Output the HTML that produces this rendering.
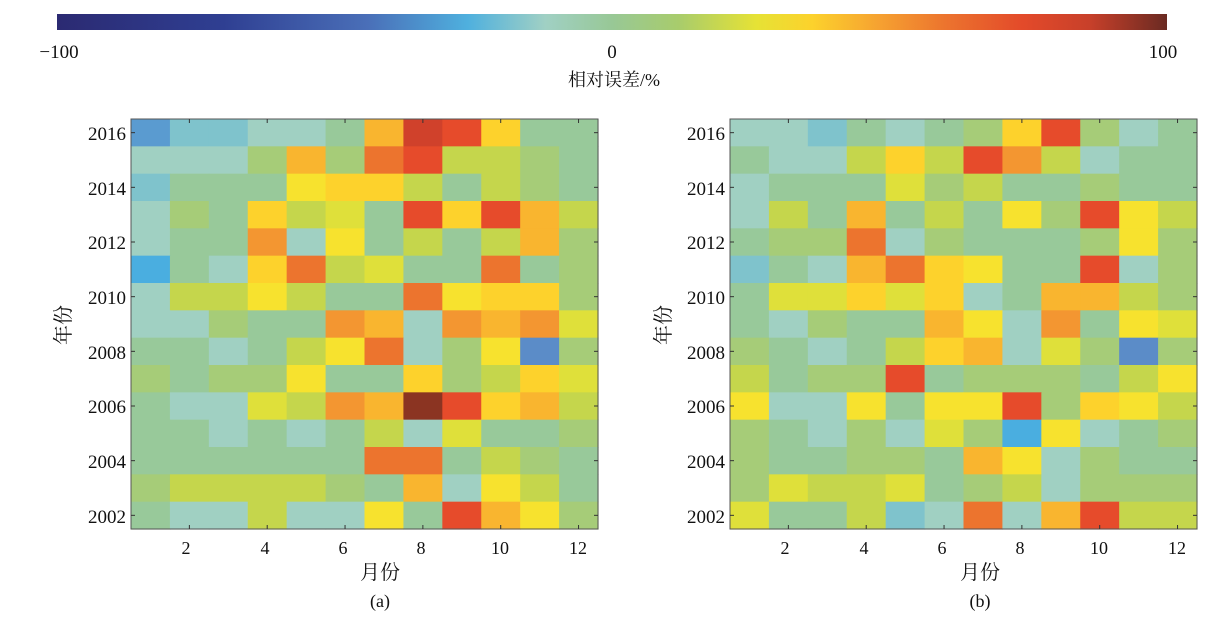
<!DOCTYPE html>
<html><head><meta charset="utf-8"><style>
body{margin:0;background:#fff;}
svg text{font-family:"Liberation Serif","Noto Serif CJK SC",serif;fill:#111;}
</style></head><body>
<svg id="s" width="1230" height="622" xmlns="http://www.w3.org/2000/svg">
<defs><linearGradient id="cb" x1="0" x2="1" y1="0" y2="0">
<stop offset="0" stop-color="#2b2a72"/><stop offset="0.15" stop-color="#2f3f92"/>
<stop offset="0.28" stop-color="#4a6fb8"/><stop offset="0.37" stop-color="#4fb0de"/>
<stop offset="0.44" stop-color="#a0d0c4"/><stop offset="0.5" stop-color="#98c896"/>
<stop offset="0.56" stop-color="#a8cc6c"/><stop offset="0.63" stop-color="#e6e235"/>
<stop offset="0.68" stop-color="#fcd22c"/><stop offset="0.74" stop-color="#f6a231"/>
<stop offset="0.8" stop-color="#ec742e"/><stop offset="0.87" stop-color="#e34a2a"/>
<stop offset="0.93" stop-color="#c8402a"/><stop offset="1" stop-color="#6a2a22"/>
</linearGradient></defs>
<rect x="57" y="14" width="1110" height="16" fill="url(#cb)"/>
<text x="59" y="58" font-size="19" text-anchor="middle">−100</text>
<text x="612" y="58" font-size="19" text-anchor="middle">0</text>
<text x="1163" y="58" font-size="19" text-anchor="middle">100</text>
<text x="614" y="86" font-size="18" text-anchor="middle">相对误差/%</text>
<g id="pa"></g><g id="pb"></g>
<text x="380" y="579" font-size="20" text-anchor="middle">月份</text>
<text x="980" y="579" font-size="20" text-anchor="middle">月份</text>
<text x="380" y="607" font-size="18" text-anchor="middle">(a)</text>
<text x="980" y="607" font-size="18" text-anchor="middle">(b)</text>
<text transform="translate(70,325) rotate(-90)" font-size="20" text-anchor="middle">年份</text>
<text transform="translate(670,325) rotate(-90)" font-size="20" text-anchor="middle">年份</text>
<g font-size="19" text-anchor="end">
<text x="126" y="140">2016</text><text x="126" y="195">2014</text><text x="126" y="249">2012</text><text x="126" y="304">2010</text><text x="126" y="359">2008</text><text x="126" y="413">2006</text><text x="126" y="468">2004</text><text x="126" y="523">2002</text>
<text x="725" y="140">2016</text><text x="725" y="195">2014</text><text x="725" y="249">2012</text><text x="725" y="304">2010</text><text x="725" y="359">2008</text><text x="725" y="413">2006</text><text x="725" y="468">2004</text><text x="725" y="523">2002</text>
</g>
<g font-size="18" text-anchor="middle">
<text x="186" y="554">2</text><text x="265" y="554">4</text><text x="343" y="554">6</text><text x="421" y="554">8</text><text x="500" y="554">10</text><text x="578" y="554">12</text>
<text x="785" y="554">2</text><text x="864" y="554">4</text><text x="942" y="554">6</text><text x="1020" y="554">8</text><text x="1099" y="554">10</text><text x="1177" y="554">12</text>
</g>
</svg>
<script>
var P={'1':'#5a9bd0',c:'#7fc3cc',C:'#4aaee0',b:'#5b8cc8',T:'#a0d0c2',G:'#98c99a',g:'#a6cc78',L:'#c5d64c',l:'#dfe03a',Y:'#f7e22e',y:'#fdd22c',O:'#f9b52f',o:'#f39631',R:'#ec742e',r:'#e64b2b',D:'#d0412b',K:'#8b3422'};
var A=["1ccTTGODryGG","TTTgOgRrLLgG","cGGGYyyLGLgG","TgGyLlGryrOL","TGGoTYGLGLOg","CGTyRLlGGRGg","TLLYLGGRYyyg","TTgGGoOToOol","GGTGLYRTgYbg","gGggYGGygLyl","GTTlLoOKryOL","GGTGTGLTlGGg","GGGGGGRRGLgG","gLLLLgGOTYLG","GTTLTTYGrOYg"];
var B=["TTcGTGgyrgTG","GTTLyLroLTGG","TGGGlgLGGgGG","TLGOGLGYgrYL","GggRTgGGGgYg","cGTORyYGGrTg","GllylyTGOOLg","GTgGGOYToGYl","gGTGLyOTlgbg","LGggrGgggGLY","YTTYGYYrgyYL","gGTgTlgCYTGg","gGGggGOYTgGG","glLLlGgLTggg","lGGLcTRTOrLL"];
function draw(id,x0,D){var g=document.getElementById(id),s='',w=467/12,h=410/15,y0=119;
for(var r=0;r<15;r++)for(var k=0;k<12;k++)s+='<rect x="'+(x0+k*w)+'" y="'+(y0+r*h)+'" width="'+(w+0.6)+'" height="'+(h+0.6)+'" fill="'+P[D[r][k]]+'"/>';
s+='<rect x="'+x0+'" y="'+y0+'" width="467" height="410" fill="none" stroke="#555" stroke-width="1"/>';
for(var m=2;m<=12;m+=2){var x=x0+(m-0.5)*w;s+='<line x1="'+x+'" x2="'+x+'" y1="'+y0+'" y2="'+(y0+4)+'" stroke="#333"/><line x1="'+x+'" x2="'+x+'" y1="'+(y0+410)+'" y2="'+(y0+406)+'" stroke="#333"/>';}
for(var r=0;r<15;r+=2){var y=y0+(r+0.5)*h;s+='<line x1="'+x0+'" x2="'+(x0+4)+'" y1="'+y+'" y2="'+y+'" stroke="#333"/><line x1="'+(x0+467)+'" x2="'+(x0+463)+'" y1="'+y+'" y2="'+y+'" stroke="#333"/>';}
g.innerHTML=s;}
draw('pa',131,A);draw('pb',730,B);
</script>
</body></html>
